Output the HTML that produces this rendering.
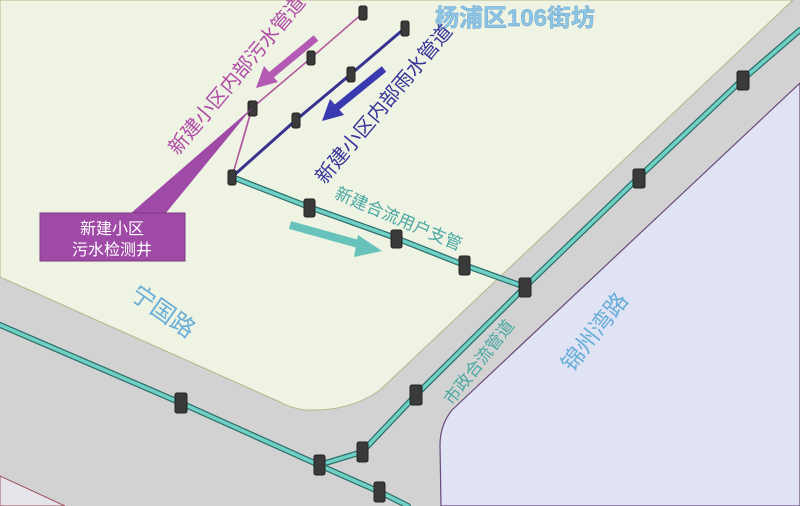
<!DOCTYPE html>
<html><head><meta charset="utf-8"><style>
html,body{margin:0;padding:0;background:#d3d3d3;}
svg{display:block}
text{font-family:"Liberation Sans","Noto Sans CJK SC",sans-serif;}
</style></head><body>
<svg width="800" height="506" viewBox="0 0 800 506" xmlns="http://www.w3.org/2000/svg">
<rect width="800" height="506" fill="#d2d2d2"/>
<path d="M0,0 L793,0 L380,390 Q350,412 305,410 Q290,408 280,402 L0,277 Z" fill="#eef3e3" stroke="#b7b58a" stroke-width="1"/>
<path d="M800,83 L452,410 Q440,425 440,445 L441,506 L800,506 Z" fill="#dfe3f4" stroke="#6a4a7a" stroke-width="1.2"/>
<path d="M0,476 L65,506 L0,506 Z" fill="#e4e4ea" stroke="#a05060" stroke-width="1"/>
<g fill="none" stroke-linecap="round">
<g stroke="#2f6f6a" stroke-width="6">
<polyline points="0,325 181,403 319,465 380,492 408,506"/>
<polyline points="319,465 362,452 416,395 525,287 638,178 742,80 800,30"/>
<polyline points="232,177 309,207 396,238 464,265 525,287"/>
</g>
<g stroke="#6fd0c6" stroke-width="3.5">
<polyline points="0,325 181,403 319,465 380,492 408,506"/>
<polyline points="319,465 362,452 416,395 525,287 638,178 742,80 800,30"/>
<polyline points="232,177 309,207 396,238 464,265 525,287"/>
</g>
<polyline points="363,13 311,58 252,108 232,177" stroke="#b45a9e" stroke-width="1.6"/>
<line x1="252" y1="108" x2="240" y2="150" stroke="#b45a9e" stroke-width="1.6"/>
<polyline points="405,28 351,74 296,120 232,177" stroke="#35338f" stroke-width="3"/>
</g>
<g fill="#3a3a3a" stroke="#222" stroke-width="1">
<rect x="359" y="6" width="8" height="14" rx="2"/>
<rect x="307" y="51" width="8" height="14" rx="2"/>
<rect x="248" y="101" width="9" height="15" rx="2"/>
<rect x="228" y="170" width="8" height="15" rx="2"/>
<rect x="401" y="21" width="8" height="15" rx="2"/>
<rect x="347" y="67" width="8" height="15" rx="2"/>
<rect x="292" y="113" width="8" height="15" rx="2"/>
<rect x="304" y="199" width="11" height="18" rx="2"/>
<rect x="391" y="230" width="11" height="18" rx="2"/>
<rect x="459" y="256" width="11" height="19" rx="2"/>
<rect x="519" y="278" width="12" height="19" rx="2"/>
<rect x="633" y="169" width="12" height="19" rx="2"/>
<rect x="737" y="71" width="12" height="19" rx="2"/>
<rect x="410" y="385" width="12" height="20" rx="2"/>
<rect x="357" y="442" width="11" height="20" rx="2"/>
<rect x="314" y="455" width="11" height="20" rx="2"/>
<rect x="374" y="482" width="11" height="20" rx="2"/>
<rect x="175" y="393" width="12" height="20" rx="2"/>
</g>
<g>
<line x1="316" y1="38" x2="270" y2="76" stroke="#b45ab4" stroke-width="7"/>
<polygon points="256,88 264,66 278,82" fill="#b45ab4"/>
<line x1="384" y1="69" x2="336" y2="108" stroke="#3a3ab0" stroke-width="7"/>
<polygon points="322,121 330,99 344,115" fill="#3a3ab0"/>
<line x1="290" y1="225" x2="362" y2="245" stroke="#68c2bc" stroke-width="8"/>
<polygon points="382,251 358,235 354,257" fill="#68c2bc"/>
</g>
<polygon points="252,108 130,214 165,214" fill="#a04aa8"/>
<rect x="40" y="213" width="145" height="48" fill="#a04aa8" stroke="#7a3a80"/>
<text x="112" y="234" font-size="16" fill="#fff" text-anchor="middle">新建小区</text>
<text x="112" y="255" font-size="16" fill="#fff" text-anchor="middle">污水检测井</text>
<text x="515" y="26" font-size="24" font-weight="bold" fill="#8ec4e4" text-anchor="middle" stroke="#6aa8d0" stroke-width="0.5">杨浦区106街坊</text>
<text transform="translate(238,76) rotate(-50)" font-size="20" fill="#b04aa6" text-anchor="middle" dominant-baseline="middle">新建小区内部污水管道</text>
<text transform="translate(385,105) rotate(-50)" font-size="20" fill="#36349a" text-anchor="middle" dominant-baseline="middle">新建小区内部雨水管道</text>
<text transform="translate(398,220) rotate(23)" font-size="17" fill="#4aa8a2" text-anchor="middle" dominant-baseline="middle">新建合流用户支管</text>
<text transform="translate(162,313) rotate(35)" font-size="24" fill="#6aaed8" text-anchor="middle" dominant-baseline="middle">宁国路</text>
<text transform="translate(480,363) rotate(-52)" font-size="17" fill="#4aa8a2" text-anchor="middle" dominant-baseline="middle">市政合流管道</text>
<text transform="translate(596,333) rotate(-52)" font-size="23" fill="#6aaed8" text-anchor="middle" dominant-baseline="middle">锦州湾路</text>
</svg>
</body></html>
